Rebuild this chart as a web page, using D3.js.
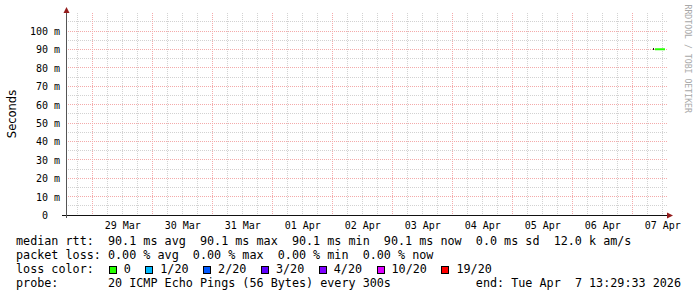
<!DOCTYPE html>
<html><head><meta charset="utf-8">
<script src="https://cdn.jsdelivr.net/npm/d3@7"></script>
<style>
body{margin:0;background:#fff}
svg{display:block}
text{font-family:"DejaVu Sans Mono",monospace;white-space:pre}
</style>
</head><body>
<svg id="c" width="697" height="297" xml:space="preserve"></svg>
<script>
// ---- data ----
const startTime = "2026-03-28T13:29:33Z";
const endTime = "2026-04-07T13:29:33Z";
const yMax = 0.1098;
const yTickValues = [0, 0.01, 0.02, 0.03, 0.04, 0.05, 0.06, 0.07, 0.08, 0.09, 0.1];
const yTickLabels = ["0  ", "10 m", "20 m", "30 m", "40 m", "50 m", "60 m", "70 m", "80 m", "90 m", "100 m"];
const xTickDates = ["2026-03-29T12:00:00Z", "2026-03-30T12:00:00Z", "2026-03-31T12:00:00Z", "2026-04-01T12:00:00Z",
  "2026-04-02T12:00:00Z", "2026-04-03T12:00:00Z", "2026-04-04T12:00:00Z", "2026-04-05T12:00:00Z",
  "2026-04-06T12:00:00Z", "2026-04-07T12:00:00Z"];
const xTickLabels = ["29 Mar", "30 Mar", "31 Mar", "01 Apr", "02 Apr", "03 Apr", "04 Apr", "05 Apr", "06 Apr", "07 Apr"];
const sampleTimes = ["2026-04-07T09:05:00Z", "2026-04-07T09:29:00Z", "2026-04-07T09:53:00Z", "2026-04-07T10:17:00Z",
  "2026-04-07T10:41:00Z", "2026-04-07T11:05:00Z", "2026-04-07T11:29:00Z", "2026-04-07T11:53:00Z",
  "2026-04-07T12:17:00Z", "2026-04-07T12:41:00Z"];
const medianRtt = [0.0901, 0.0901, 0.0901, 0.0901, 0.0901, 0.0901, 0.0901, 0.0901, 0.0901, 0.0901];
const lossCount = [0, 0, 0, 0, 0, 0, 0, 0, 0, 0];
const lossThresholds = [0, 1, 2, 3, 4, 10, 19];
const lossLabels = ["0", "1/20", "2/20", "3/20", "4/20", "10/20", "19/20"];
const lossColors = ["#26ff00", "#00b8ff", "#0059ff", "#5e00ff", "#7e00ff", "#dd00ff", "#ff0000"];
const legendRows = [
  "median rtt:  90.1 ms avg  90.1 ms max  90.1 ms min  90.1 ms now  0.0 ms sd  12.0 k am/s",
  "packet loss: 0.00 % avg  0.00 % max  0.00 % min  0.00 % now",
  "loss color:",
  "probe:       20 ICMP Echo Pings (56 Bytes) every 300s"
];
const endLabel = "end: Tue Apr  7 13:29:33 2026";
const yTitle = "Seconds";
const watermark = "RRDTOOL / TOBI OETIKER";
const stepSeconds = 1440;

// ---- layout ----
const svg = d3.select("#c");
svg.append("rect").attr("width", 697).attr("height", 297).attr("fill", "#fff");
const L = 66, R = 666, T = 13, B = 215;
const x = d3.scaleUtc().domain([new Date(startTime), new Date(endTime)]).range([L, R]);
const y = d3.scaleLinear().domain([0, yMax]).range([B, T]);
const px = v => Math.round(v) + 0.5;
const py = v => Math.floor(v) + 0.5;

const grid = svg.append("g").attr("shape-rendering", "crispEdges");
const minorGrey = "#d2d2d2", majorRed = "#f4aaaa";
// horizontal minor (5 m)
d3.range(0.005, yMax, 0.01).forEach(v => {
  grid.append("line").attr("x1", L).attr("x2", R + 2).attr("y1", py(y(v))).attr("y2", py(y(v)))
    .attr("stroke", minorGrey).attr("stroke-dasharray", "1,1");
});
// vertical minor (6 h)
const t0 = new Date(startTime), t1 = new Date(endTime);
d3.utcHour.every(6).range(t0, t1).filter(d => d.getUTCHours() !== 0).forEach(d => {
  grid.append("line").attr("x1", px(x(d))).attr("x2", px(x(d))).attr("y1", T).attr("y2", B)
    .attr("stroke", minorGrey).attr("stroke-dasharray", "1,1");
});
// horizontal major (10 m)
yTickValues.filter(v => v > 0).forEach(v => {
  grid.append("line").attr("x1", L).attr("x2", R + 2).attr("y1", py(y(v))).attr("y2", py(y(v)))
    .attr("stroke", majorRed).attr("stroke-dasharray", "1,1");
});
// vertical major (days)
d3.utcDay.range(t0, t1).forEach(d => {
  grid.append("line").attr("x1", px(x(d))).attr("x2", px(x(d))).attr("y1", T).attr("y2", B)
    .attr("stroke", majorRed).attr("stroke-dasharray", "1,1");
});

// ---- median line ----
const colorFor = n => { let idx = 0; lossThresholds.forEach((t, i) => { if (n >= t) idx = i; }); return lossColors[idx]; };
const marks = svg.append("g");
sampleTimes.forEach((s, i) => {
  const d = new Date(s);
  const d2 = new Date(d.getTime() + stepSeconds * 1000);
  marks.append("line")
    .attr("x1", x(d)).attr("x2", x(d2))
    .attr("y1", y(medianRtt[i])).attr("y2", y(medianRtt[i]))
    .attr("stroke", colorFor(lossCount[i])).attr("stroke-width", 2);
});
// small dark start marker of the series
marks.append("rect").attr("x", Math.floor(x(new Date(sampleTimes[0]))) - 1).attr("y", Math.floor(y(medianRtt[0])) - 1)
  .attr("width", 1).attr("height", 2).attr("fill", "#222");

// ---- axes ----
const xAxis = d3.axisBottom(x).tickValues(xTickDates.map(d => new Date(d)))
  .tickFormat((d, i) => xTickLabels[i]).tickSize(0).tickPadding(6.5);
const gx = svg.append("g").attr("transform", `translate(0,${B})`).call(xAxis);
gx.select(".domain").remove();
gx.selectAll("text").attr("font-size", "10px").attr("font-family", "DejaVu Sans Mono").attr("fill", "#000");

const yAxis = d3.axisLeft(y).tickValues(yTickValues).tickFormat((d, i) => yTickLabels[i]).tickSize(0).tickPadding(6);
const gy = svg.append("g").attr("transform", `translate(${L},0)`).call(yAxis);
gy.select(".domain").remove();
gy.selectAll("text").attr("font-size", "10px").attr("font-family", "DejaVu Sans Mono").attr("fill", "#000")
  .attr("xml:space", "preserve").attr("dy", "0.34em");

const ax = svg.append("g").attr("shape-rendering", "crispEdges");
ax.append("line").attr("x1", 62).attr("x2", 668).attr("y1", py(B)).attr("y2", py(B)).attr("stroke", "#111");
ax.append("line").attr("x1", px(L)).attr("x2", px(L)).attr("y1", T).attr("y2", 218).attr("stroke", "#555");
const arrowColor = "#941c1c";
svg.append("path").attr("d", `M${px(L) - 3},${T} L${px(L)},${T - 6} L${px(L) + 3},${T} Z`).attr("fill", arrowColor);
svg.append("path").attr("d", `M${R + 1},${py(B) - 3} L${R + 7},${py(B)} L${R + 1},${py(B) + 3} Z`).attr("fill", arrowColor);

// ---- titles ----
svg.append("text").attr("transform", `translate(16,${(T + B) / 2}) rotate(-90)`)
  .attr("text-anchor", "middle").style("font-family", "'DejaVu Sans'")
  .attr("font-size", "11.5px").attr("fill", "#000").text(yTitle);
svg.append("text").attr("transform", `translate(684.5,4.5) rotate(90)`)
  .attr("font-size", "8.2px").attr("fill", "#a8a8a8").text(watermark);

// ---- legend ----
const charW = 7.08;
const lg = svg.append("g").attr("font-size", "11.76px").attr("fill", "#000");
legendRows.forEach((row, i) => {
  lg.append("text").attr("x", 16).attr("y", 245 + i * 14).attr("xml:space", "preserve").text(row);
});
lg.append("text").attr("x", 681).attr("y", 287).attr("text-anchor", "end").attr("xml:space", "preserve").text(endLabel);
let bx = 108.7;
lossLabels.forEach((lab, i) => {
  lg.append("rect").attr("x", Math.round(bx) + 0.5).attr("y", 266.5).attr("width", 7).attr("height", 7)
    .attr("fill", lossColors[i]).attr("stroke", "#000").attr("stroke-width", 1).attr("shape-rendering", "crispEdges");
  const tx = bx + 15;
  lg.append("text").attr("x", tx).attr("y", 273).text(lab);
  bx = tx + lab.length * charW + 14.5;
});
</script>
</body></html>
